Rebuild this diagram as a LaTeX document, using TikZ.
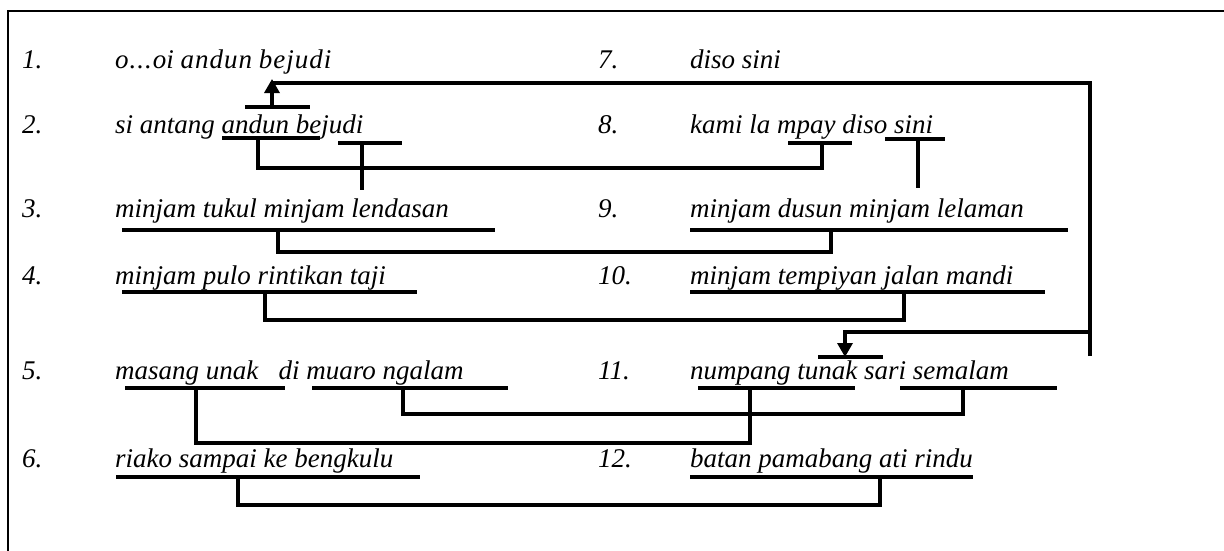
\documentclass[tikz,border=0pt]{standalone}
\usepackage{fontspec}
\setmainfont{Liberation Serif}
\usetikzlibrary{arrows.meta}
\begin{document}
\begin{tikzpicture}[x=1pt,y=-1pt,
  lbl/.style={anchor=base west,inner sep=0pt,font=\fontsize{27}{30}\selectfont\itshape},
  bar/.style={line width=3.8pt},
  link/.style={line width=3.3pt},
  frame/.style={line width=2.6pt},
  tip/.style={-{Triangle[length=14pt,width=15pt]}}]
\useasboundingbox (0,0) rectangle (1224,550);
\coordinate (fbl) at (8,560);
\coordinate (ftl) at (8,11);
\coordinate (ftr) at (1230,11);
\draw[frame] (fbl) -- (ftl) -- (ftr);

% labels left column
\node[lbl] (n1) at (22,68) {1.};
\node[lbl] (t1) at (115,68) {o\kern1pt.\kern1pt.\kern1pt.\kern1pt oi a\kern1pt n\kern1pt d\kern1pt u\kern1pt n b\kern1pt e\kern1pt j\kern1pt u\kern1pt d\kern1pt i};
\node[lbl] (n2) at (22,133) {2.};
\node[lbl] (t2) at (115,133) {si antang andun bejudi};
\node[lbl] (n3) at (22,217) {3.};
\node[lbl] (t3) at (115,217) {minjam tukul minjam lendasan};
\node[lbl] (n4) at (22,284) {4.};
\node[lbl] (t4) at (115,284) {minjam pulo rintikan taji};
\node[lbl] (n5) at (22,379) {5.};
\node[lbl] (t5) at (115,379) {masang unak\ \ \ di muaro ngalam};
\node[lbl] (n6) at (22,467) {6.};
\node[lbl] (t6) at (115,467) {riako sampai ke bengkulu};
% labels right column
\node[lbl] (n7) at (598,68) {7.};
\node[lbl] (t7) at (690,68) {diso sini};
\node[lbl] (n8) at (598,133) {8.};
\node[lbl] (t8) at (690,133) {kami la mpay diso sini};
\node[lbl] (n9) at (598,217) {9.};
\node[lbl] (t9) at (690,217) {minjam dusun minjam lelaman};
\node[lbl] (n10) at (598,284) {10.};
\node[lbl] (t10) at (690,284) {minjam tempiyan jalan mandi};
\node[lbl] (n11) at (598,379) {11.};
\node[lbl] (t11) at (690,379) {numpang tunak sari semalam};
\node[lbl] (n12) at (598,467) {12.};
\node[lbl] (t12) at (690,467) {batan pamabang ati rindu};

% big return arrows
\coordinate (rtop) at (1090,83);
\coordinate (rbot) at (1090,356);
\coordinate (a1turn) at (272,83);
\coordinate (a1tip) at (272,79);
\coordinate (a1base) at (272,107);
\coordinate (b1l) at (245,107);
\coordinate (b1r) at (310,107);
\draw[link] (rbot) -- (rtop) -- (a1turn);
\draw[bar] (b1l) -- (b1r);
\draw[link,tip] (a1base) -- (a1tip);

\coordinate (rmid) at (1090,332);
\coordinate (a2turn) at (845,332);
\coordinate (a2tip) at (845,357);
\coordinate (b2l) at (818,357);
\coordinate (b2r) at (883,357);
\draw[bar] (b2l) -- (b2r);
\draw[link,tip] (rmid) -- (a2turn) -- (a2tip);

% row 2 / 8
\coordinate (u2l) at (222,138); \coordinate (u2r) at (320,138);
\coordinate (u2m) at (258,138); \coordinate (u2d) at (258,168);
\coordinate (u8l) at (788,143); \coordinate (u8r) at (852,143);
\coordinate (u8m) at (822,143); \coordinate (u8d) at (822,168);
\draw[bar] (u2l) -- (u2r);
\draw[bar] (u8l) -- (u8r);
\draw[link] (u2m) -- (u2d) -- (u8d) -- (u8m);
\coordinate (ta1) at (338,143); \coordinate (ta2) at (402,143);
\coordinate (tam) at (362,143); \coordinate (tad) at (362,190);
\draw[bar] (ta1) -- (ta2);
\draw[link] (tam) -- (tad);
\coordinate (tb1) at (885,139); \coordinate (tb2) at (945,139);
\coordinate (tbm) at (918,139); \coordinate (tbd) at (918,188);
\draw[bar] (tb1) -- (tb2);
\draw[link] (tbm) -- (tbd);

% row 3 / 9
\coordinate (u3l) at (122,230); \coordinate (u3r) at (495,230);
\coordinate (u9l) at (690,230); \coordinate (u9r) at (1068,230);
\draw[bar] (u3l) -- (u3r);
\draw[bar] (u9l) -- (u9r);
\coordinate (c3a) at (278,230); \coordinate (c3b) at (278,252);
\coordinate (c9b) at (831,252); \coordinate (c9a) at (831,230);
\draw[link] (c3a) -- (c3b) -- (c9b) -- (c9a);

% row 4 / 10
\coordinate (u4l) at (122,292); \coordinate (u4r) at (417,292);
\coordinate (u10l) at (690,292); \coordinate (u10r) at (1045,292);
\draw[bar] (u4l) -- (u4r);
\draw[bar] (u10l) -- (u10r);
\coordinate (c4a) at (265,292); \coordinate (c4b) at (265,320);
\coordinate (c10b) at (904,320); \coordinate (c10a) at (904,292);
\draw[link] (c4a) -- (c4b) -- (c10b) -- (c10a);

% row 5 / 11
\coordinate (u5al) at (125,388); \coordinate (u5ar) at (285,388);
\coordinate (u5bl) at (312,388); \coordinate (u5br) at (508,388);
\coordinate (u11al) at (698,388); \coordinate (u11ar) at (855,388);
\coordinate (u11bl) at (900,388); \coordinate (u11br) at (1057,388);
\draw[bar] (u5al) -- (u5ar);
\draw[bar] (u5bl) -- (u5br);
\draw[bar] (u11al) -- (u11ar);
\draw[bar] (u11bl) -- (u11br);
\coordinate (c5a) at (403,388); \coordinate (c5b) at (403,414);
\coordinate (c11b) at (963,414); \coordinate (c11a) at (963,388);
\draw[link] (c5a) -- (c5b) -- (c11b) -- (c11a);
\coordinate (d5a) at (196,388); \coordinate (d5b) at (196,443);
\coordinate (d11b) at (750,443); \coordinate (d11a) at (750,388);
\draw[link] (d5a) -- (d5b) -- (d11b) -- (d11a);

% row 6 / 12
\coordinate (u6l) at (116,477); \coordinate (u6r) at (420,477);
\coordinate (u12l) at (690,477); \coordinate (u12r) at (973,477);
\draw[bar] (u6l) -- (u6r);
\draw[bar] (u12l) -- (u12r);
\coordinate (c6a) at (238,477); \coordinate (c6b) at (238,505);
\coordinate (c12b) at (880,505); \coordinate (c12a) at (880,477);
\draw[link] (c6a) -- (c6b) -- (c12b) -- (c12a);
\end{tikzpicture}
\end{document}
